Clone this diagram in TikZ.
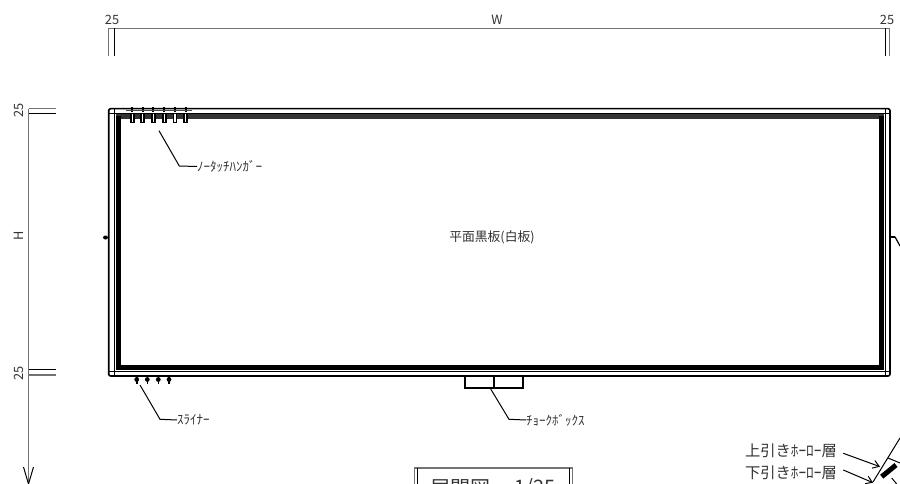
\documentclass[tikz,border=0pt]{standalone}
\usepackage{fontspec}
\usetikzlibrary{arrows.meta}
\setmainfont{Noto Sans CJK JP}
\begin{document}
\begin{tikzpicture}[x=1pt,y=-1pt,
 thin line/.style={line width=1pt,black},
 grey line/.style={line width=1.5pt,black!55},
 thick line/.style={line width=1.6pt,black},
 heavy line/.style={line width=4.6pt,black},
 lbl/.style={inner sep=0pt,font=\fontsize{12.8}{13}\selectfont,text=black!80},
 small lbl/.style={inner sep=0pt,font=\fontsize{13}{13}\selectfont,text=black!80},
 mid lbl/.style={inner sep=0pt,font=\fontsize{15.3}{16}\selectfont,text=black!80},
 big lbl/.style={inner sep=0pt,font=\fontsize{20}{20}\selectfont,text=black!80},
 hanger/.style={draw=black,line width=1.7pt,fill=white,minimum width=3.2pt,minimum height=9pt,inner sep=0pt}]
\useasboundingbox (0,0) rectangle (900,484);
\node[lbl] (t1) at (112,20) {25};
\node[lbl] (tw) at (497,20) {W};
\node[lbl] (t2) at (887,20) {25};
\coordinate (a1) at (108.5,28.5);\coordinate (a2) at (890,28.5);
\draw[grey line] (a1)--(a2);
\draw[grey line] (108.5,28.5)--(108.5,56);
\draw[thin line] (114,28.5)--(114,56);
\draw[thin line] (885,28.5)--(885,56);
\draw[grey line] (889.5,28.5)--(889.5,56);
\node[lbl,rotate=90] (l1) at (19,110.5) {25};
\node[lbl,rotate=90] (lh) at (19,236) {H};
\node[lbl,rotate=90] (l2) at (19,373) {25};
\coordinate (v1) at (28.5,108.7);\coordinate (v2) at (28.5,484);
\draw[grey line] (v1)--(v2);
\draw[grey line] (28.5,108.7)--(56,108.7);
\draw[thin line] (28.5,114)--(56,114);
\draw[thin line] (28.5,369.5)--(56,369.5);
\draw[grey line] (28.5,375)--(56,375);
\draw[thin line] (23.5,467)--(28.5,484);
\draw[thin line] (33.5,467)--(28.5,484);
% board
\draw[thick line,rounded corners=2pt] (108.7,108.7)rectangle(890,376);
\draw[thin line] (108.7,113.7)--(890,113.7);
\draw[thin line] (114,108.7)--(114,376);
\draw[thin line] (885.5,108.7)--(885.5,376);
\draw[thick line] (108.7,371.5)--(890,371.5);
\draw[line width=5pt,black!80] (116,116.5)--(884,116.5);
\draw[heavy line] (118.5,116)--(118.5,367);
\draw[line width=5pt] (881.7,116)--(881.7,367);
\draw[line width=5pt] (116,367.5)--(884,367.5);
% hangers
\foreach \x in {132.3,142.7,153.3,164.3,175,185.7}{
 \draw[line width=2pt] (\x,107.5)--(\x,112);
 \node[hanger] at (\x,118) {};}
\draw[thin line,black!70] (126,110.7)--(192,110.7);
% side
\fill (105.5,237.5) ellipse (2.5pt and 2pt);
\draw[line width=1.8pt] (890,236.8)--(895,236.8);
\draw[line width=1.2pt] (895,236.8)--(900,246);
% spliner
\foreach \x in {136.7,147.3,158.3,169}{
 \fill (\x,379.5) circle (2.4pt);
 \draw[line width=1.6pt] (\x,376)--(\x,383.5);}
% chalk box
\draw[thick line] (464.7,376.5) rectangle (522.7,388);
\draw[thick line] (493.7,376.5)--(493.7,388);
% leaders
\node[small lbl,anchor=west] (n1) at (197,166.5) {ﾉｰﾀｯﾁﾊﾝｶﾞｰ};
\draw[thin line] (159,130.7)--(179.3,166)--(n1.west);
\node[small lbl,anchor=west] (n2) at (177,420) {ｽﾗｲﾅｰ};
\draw[thin line] (140,385)--(160,419.3)--(n2.west);
\node[small lbl,anchor=west] (n3) at (526,420) {ﾁｮｰｸﾎﾞｯｸｽ};
\draw[thin line] (490.7,389)--(509,419.3)--(n3.west);
\node[lbl] (c) at (492,237) {平面黒板(白板)};
% title
\draw[grey line] (414.3,468)--(572.5,468);
\draw[grey line] (414.3,484)--(414.3,468);
\draw[grey line] (572.5,484)--(572.5,468);
\draw[thin line] (417.3,484)--(417.3,468);
\draw[thin line] (569.5,484)--(569.5,468);
\node[big lbl,anchor=west] (title) at (430,488) {展開図};
\node[big lbl,anchor=east] (scale) at (556,488) {1/25};
% lower right
\node[mid lbl,anchor=east] (u) at (837,450.5) {上引きﾎｰﾛｰ層};
\node[mid lbl,anchor=east] (d) at (837,472.5) {下引きﾎｰﾛｰ層};
\coordinate (p1) at (880,466.7);\coordinate (p2) at (873,482.7);
\draw[thin line,-{Straight Barb[length=6pt,width=8pt]}] (843.3,453.3)--(p1);
\draw[thin line,-{Straight Barb[length=6pt,width=8pt]}] (843.3,470)--(p2);
\draw[thin line] (873,482)--(900,438);
\draw[thin line] (888,458)--(900,463);
\draw[line width=5pt] (881.7,476.7)--(896,465);
\draw[thin line] (891.7,478)--(896.7,484);
\end{tikzpicture}
\end{document}
